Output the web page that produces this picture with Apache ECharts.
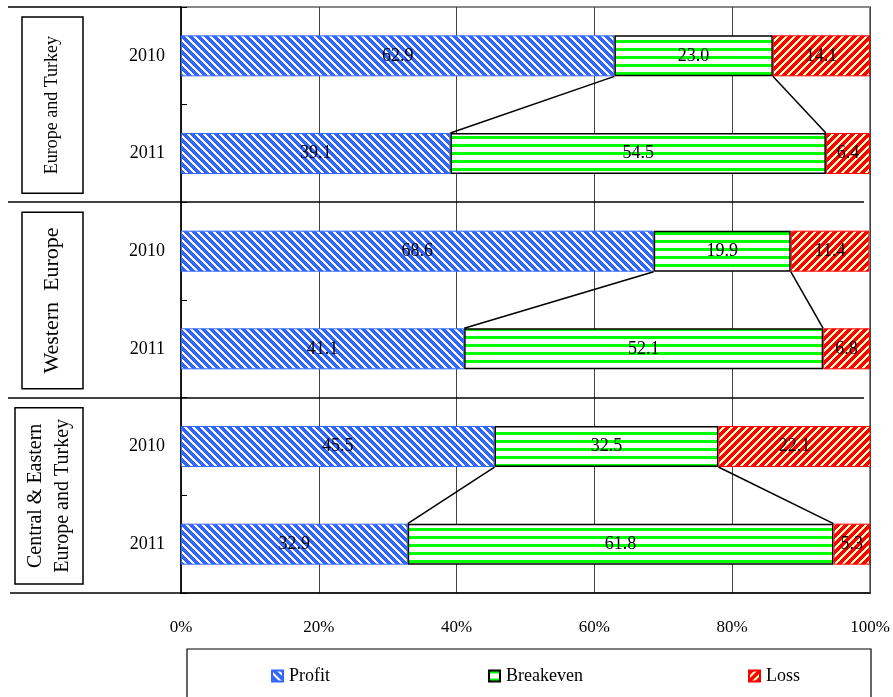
<!DOCTYPE html>
<html>
<head>
<meta charset="utf-8">
<script src="https://cdn.jsdelivr.net/npm/echarts@6/dist/echarts.min.js"></script>
<style>
  html, body { margin: 0; padding: 0; background: #fff; }
  #chart { width: 893px; height: 697px; }
</style>
</head>
<body>
<div id="chart"></div>
<script>
// Rows, top to bottom: each region has a 2010 and a 2011 bar
const years = ['2010', '2011', '2010', '2011', '2010', '2011'];
const regions = ['Europe and Turkey', 'Western  Europe', 'Central & Eastern\nEurope and Turkey'];
const profit    = [62.9, 39.1, 68.6, 41.1, 45.5, 32.9];
const breakeven = [23.0, 54.5, 19.9, 52.1, 32.5, 61.8];
const loss      = [14.1, 6.4, 11.4, 6.8, 22.1, 5.3];
const seriesNames = ['Profit', 'Breakeven', 'Loss'];

const FONT = "'Liberation Serif', 'Times New Roman', serif";
const W = 893, H = 697;
const GRID = { left: 181, top: 7, right: 23, bottom: 104 };
const BAR_RATIO = 0.42;
const regionFontSize = [18, 22, 20];

// Fill patterns for the three stacked segments
function makePattern(size, paint) {
  const c = document.createElement('canvas');
  c.width = size; c.height = size;
  const ctx = c.getContext('2d');
  for (let y = 0; y < size; y++) {
    for (let x = 0; x < size; x++) {
      ctx.fillStyle = paint(x, y);
      ctx.fillRect(x, y, 1, 1);
    }
  }
  return { image: c, repeat: 'repeat' };
}
const profitFill = makePattern(8, (x, y) => ((x - y + 16) % 8) < 5 ? '#3366ff' : '#ffffff');
const breakevenFill = makePattern(8, (x, y) => (y % 8) < 3 ? '#00ff00' : '#ffffff');
const lossFill = makePattern(8, (x, y) => ((x + y) % 8) < 5 ? '#ff0000' : '#ffffc8');

const chart = echarts.init(document.getElementById('chart'), null, { renderer: 'canvas' });

const labelStyle = {
  show: true,
  position: 'inside',
  color: '#000',
  fontFamily: FONT,
  fontSize: 18,
  formatter: p => p.value.toFixed(1)
};

function barSeries(name, data, fill, border, bw) {
  return {
    name: name,
    type: 'bar',
    stack: 'total',
    data: data,
    barWidth: (BAR_RATIO * 100) + '%',
    itemStyle: { color: fill, borderColor: border, borderWidth: bw },
    label: labelStyle,
    emphasis: { disabled: true },
    z: 3
  };
}

// Connector lines between the Breakeven segments of the two years in each region
const connectorData = [];
for (let g = 0; g < regions.length; g++) {
  const a = g * 2, b = g * 2 + 1;
  connectorData.push([profit[a], profit[a] + breakeven[a], profit[b], profit[b] + breakeven[b], a, b]);
}

const plotH = H - GRID.top - GRID.bottom;
const bandH = plotH / years.length;
const groupH = bandH * 2;

// Region label boxes and separator lines on the left
const graphics = [];
const lineStyle = { stroke: '#000', lineWidth: 1.5 };
graphics.push({ type: 'line', shape: { x1: 8, y1: GRID.top, x2: GRID.left, y2: GRID.top }, style: lineStyle, z: 10 });
for (let g = 1; g < regions.length; g++) {
  const y = Math.round(GRID.top + g * groupH);
  graphics.push({ type: 'line', shape: { x1: 8, y1: y, x2: W - GRID.right - 6, y2: y }, style: lineStyle, z: 10 });
}
graphics.push({ type: 'line', shape: { x1: 10, y1: GRID.top + plotH, x2: GRID.left, y2: GRID.top + plotH }, style: lineStyle, z: 10 });

regions.forEach((name, g) => {
  const top = GRID.top + g * groupH;
  const lines = name.split('\n').length;
  const bx = lines > 1 ? 15 : 22;
  const bw = lines > 1 ? 68 : 61;
  const by = top + 10;
  const bh = groupH - 19;
  graphics.push({
    type: 'rect',
    shape: { x: bx, y: by, width: bw, height: bh },
    style: { fill: '#fff', stroke: '#000', lineWidth: 1.5 },
    z: 10
  });
  graphics.push({
    type: 'text',
    x: bx + bw / 2,
    y: by + bh / 2,
    rotation: Math.PI / 2,
    style: {
      text: name,
      font: regionFontSize[g] + 'px ' + FONT,
      fill: '#000',
      textAlign: 'center',
      textVerticalAlign: 'middle',
      lineHeight: 27
    },
    z: 11
  });
});

// Legend frame
graphics.push({
  type: 'rect',
  shape: { x: 187, y: 649, width: 684, height: 60 },
  style: { fill: 'none', stroke: '#000', lineWidth: 1.2 },
  z: 10
});

const legendBase = {
  orient: 'horizontal',
  icon: 'rect',
  itemWidth: 11,
  itemHeight: 11,
  itemGap: 0,
  top: 662,
  selectedMode: false,
  textStyle: { fontFamily: FONT, fontSize: 18, color: '#000', padding: [0, 0, 0, 1] }
};

const option = {
  backgroundColor: '#fff',
  animation: false,
  grid: {
    left: GRID.left, top: GRID.top, right: GRID.right, bottom: GRID.bottom,
    show: true, borderColor: '#888', borderWidth: 2, backgroundColor: 'transparent'
  },
  legend: [
    Object.assign({}, legendBase, { left: 266, data: [seriesNames[0]] }),
    Object.assign({}, legendBase, { left: 483, data: [seriesNames[1]] }),
    Object.assign({}, legendBase, { left: 743, data: [seriesNames[2]] })
  ],
  xAxis: {
    type: 'value',
    min: 0, max: 100, interval: 20,
    axisLine: { show: true, lineStyle: { color: '#000', width: 1.5 } },
    axisTick: { show: false },
    splitLine: { show: true, lineStyle: { color: '#444', width: 1 } },
    axisLabel: { formatter: '{value}%', fontFamily: FONT, fontSize: 17, color: '#000', margin: 26 }
  },
  yAxis: {
    type: 'category',
    inverse: true,
    data: years,
    axisLine: { show: true, lineStyle: { color: '#000', width: 1.5 } },
    axisTick: { show: true, inside: true, length: 6, lineStyle: { color: '#000', width: 1 } },
    axisLabel: { fontFamily: FONT, fontSize: 18, color: '#000', margin: 16 },
    splitLine: { show: false }
  },
  series: [
    barSeries(seriesNames[0], profit, profitFill, '#3366ff', 1),
    barSeries(seriesNames[1], breakeven, breakevenFill, '#000', 1.5),
    barSeries(seriesNames[2], loss, lossFill, '#ff0000', 1),
    {
      type: 'custom',
      data: connectorData,
      encode: { x: [0, 1, 2, 3], y: [4, 5] },
      z: 5,
      silent: true,
      renderItem: function (params, api) {
        const half = api.size([0, 1])[1] * BAR_RATIO / 2;
        const aL = api.coord([api.value(0), api.value(4)]);
        const aR = api.coord([api.value(1), api.value(4)]);
        const bL = api.coord([api.value(2), api.value(5)]);
        const bR = api.coord([api.value(3), api.value(5)]);
        const st = { stroke: '#000', lineWidth: 1.5 };
        return {
          type: 'group',
          children: [
            { type: 'line', shape: { x1: aL[0], y1: aL[1] + half, x2: bL[0], y2: bL[1] - half }, style: st },
            { type: 'line', shape: { x1: aR[0], y1: aR[1] + half, x2: bR[0], y2: bR[1] - half }, style: st }
          ]
        };
      }
    }
  ],
  graphic: graphics
};

chart.setOption(option);
</script>
</body>
</html>
